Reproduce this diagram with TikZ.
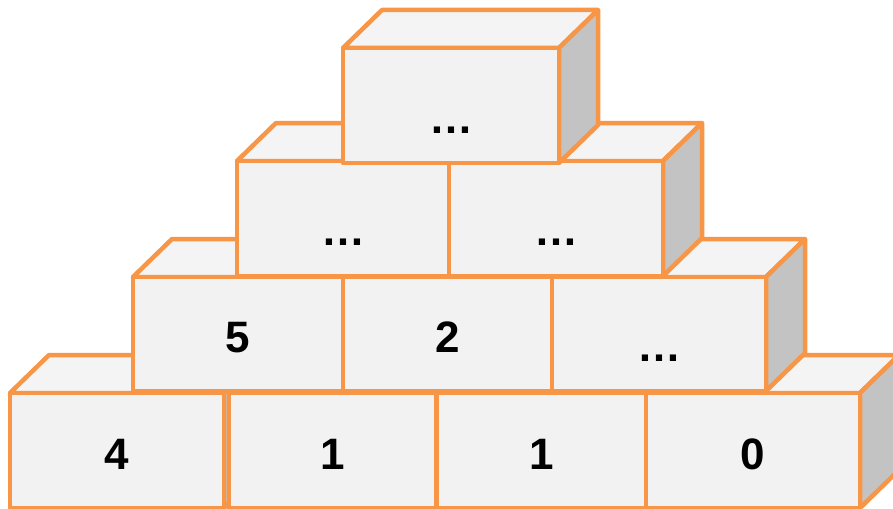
\documentclass[tikz,border=0pt]{standalone}
\usepackage{fontspec}
\setmainfont{Liberation Sans}
\definecolor{brickline}{HTML}{F79646}
\definecolor{frontfill}{HTML}{F2F2F2}
\definecolor{topfill}{HTML}{F4F4F4}
\definecolor{sidefill}{HTML}{C3C3C3}
\tikzset{
  face/.style={draw=brickline, line width=4.5pt, line join=round},
  bricklabel/.style={anchor=base, inner sep=0pt, font=\bfseries\fontsize{44}{50}\selectfont}
}
% #1 x left, #2 y top of front face, #3 x right, #4 height, #5 label, #6 name, #7 baseline offset
\newcommand\drawbrick[7]{%
  \path[face, fill=topfill] (#1,#2) -- ++(39,-38) -- (#3+39,#2-38) -- (#3,#2) -- cycle;
  \path[face, fill=sidefill] (#3,#2) -- ++(39,-38) -- ++(0,#4) -- ++(-39,38) -- cycle;
  \path[face, fill=frontfill] (#1,#2) rectangle (#3,#2+#4);
  \node[bricklabel] (#6) at ({(#1+#3)/2}, #2+#4/2+#7) {#5};
}
\begin{document}
\begin{tikzpicture}[x=1pt, y=-1pt]
  \useasboundingbox (0,0) rectangle (893,508);
  \clip (0,0) rectangle (893,508);
  % bottom row
  \drawbrick{10}{393}{224}{115}{4}{a1}{19}
  \drawbrick{229}{393}{436}{115}{1}{a2}{19}
  \drawbrick{437}{393}{646}{115}{1}{a3}{19}
  \drawbrick{646}{393}{860}{115}{0}{a4}{19}
  % second row
  \drawbrick{133}{277}{343}{114}{5}{b1}{18}
  \drawbrick{343}{277}{552}{114}{2}{b2}{18}
  \drawbrick{552}{277}{766}{114}{…}{b3}{27}
  % third row
  \drawbrick{237}{161}{449}{115}{…}{c1}{27}
  \drawbrick{449}{161}{663}{115}{…}{c2}{27}
  % top
  \drawbrick{343}{48}{559}{115}{…}{d1}{28}
\end{tikzpicture}
\end{document}
